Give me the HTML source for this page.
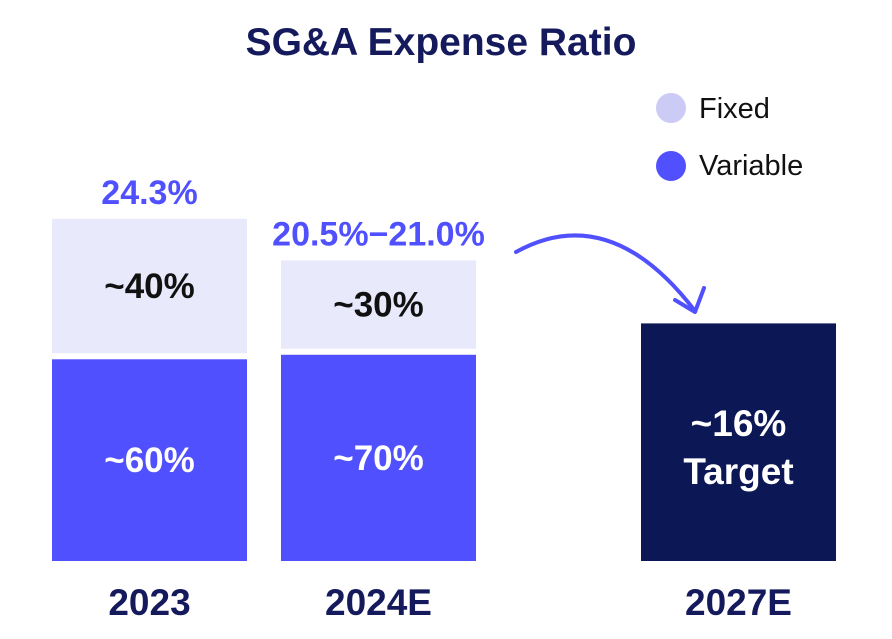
<!DOCTYPE html>
<html><head><meta charset="utf-8"><style>
body{margin:0;background:#fff;}
svg text{font-family:"Liberation Sans",sans-serif;font-weight:bold;}
</style></head><body>
<svg width="892" height="634" viewBox="0 0 892 634" xmlns="http://www.w3.org/2000/svg">
<text x="441" y="55" text-anchor="middle" font-size="39" fill="#141a5c">SG&amp;A Expense Ratio</text>
<circle cx="671" cy="108" r="15" fill="#cbcbf5"/>
<text x="699" y="118" font-size="29" fill="#111" style="font-weight:normal">Fixed</text>
<circle cx="671" cy="166" r="15" fill="#5050ff"/>
<text x="699" y="175" font-size="29" fill="#111" style="font-weight:normal">Variable</text>
<path d="M516 252 Q610 200 695 311" fill="none" stroke="#5050ff" stroke-width="4" stroke-linecap="round"/>
<path d="M675 300 L695 312 L704 288" fill="none" stroke="#5050ff" stroke-width="4" stroke-linecap="round" stroke-linejoin="round"/>
<g id="bars"></g>
</svg>
<script>
const categories=["2023","2024E","2027E"];
const totals=[24.3,21.0,16];
const fixedShare=[40,30,null];
const variableShare=[60,70,null];
const topLabels=["24.3%","20.5%\u221221.0%",""];
const fixedLabels=["~40%","~30%",""];
const variableLabels=["~60%","~70%",""];
const targetLabel=["~16%","Target"];

const baseY=561, pxPer=12.6, offset=36, gap=6;
const xLeft=[52,281,641], barW=195;
function y(v){return baseY-offset-v*pxPer;}
const g=document.getElementById('bars');
const NS="http://www.w3.org/2000/svg";
function mk(tag,attrs,name){const e=document.createElementNS(NS,tag);for(const k in attrs)e.setAttribute(k,attrs[k]);


g.appendChild(e);return e;}
function txt(x,yy,s,size,fill,name){const t=mk('text',{x:x,y:yy,'text-anchor':'middle','font-size':size,fill:fill},name);t.textContent=s;return t;}
categories.forEach((c,i)=>{
  const x=xLeft[i], cx=x+barW/2, top=y(totals[i]), h=baseY-top;
  if(fixedShare[i]!==null){
    const vh=(h-gap)*variableShare[i]/100, fh=(h-gap)-vh;
    mk('rect',{x:x,y:top,width:barW,height:fh,fill:'#e9e9fc'},'bar-fixed-'+c);
    mk('rect',{x:x,y:baseY-vh,width:barW,height:vh,fill:'#5050ff'},'bar-variable-'+c);
    txt(cx,top+fh/2+12,fixedLabels[i],35,'#111','fixed-label-'+c);
    txt(cx,baseY-vh/2+12,variableLabels[i],35,'#fff','variable-label-'+c);
    txt(cx,top-15,topLabels[i],34,'#5050ff','total-label-'+c);
  } else {
    mk('rect',{x:x,y:top,width:barW,height:h,fill:'#0c1756'},'bar-target-'+c);
    txt(cx,top+h/2-6,targetLabel[0],37,'#fff','target-value-label');
    txt(cx,top+h/2+42,targetLabel[1],37,'#fff','target-text-label');
  }
  txt(cx,615,c,37,'#141a5c','x-label-'+c);
});
</script>
</body></html>
